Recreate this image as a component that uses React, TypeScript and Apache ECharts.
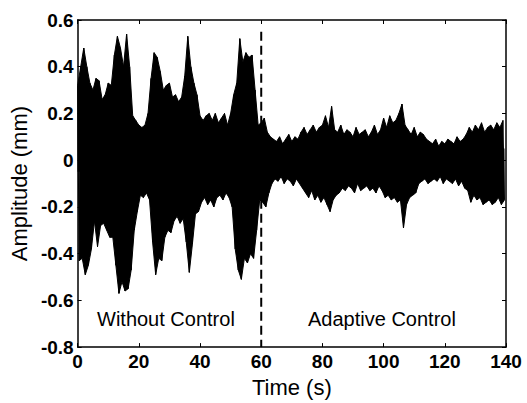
import React, { useEffect, useRef } from "react";
import * as echarts from "echarts";

// Envelope of the measured displacement, read per second (t = 0..139 s)
const upperPeaks: number[] = [
  0.32, 0.40, 0.48, 0.40, 0.33, 0.30, 0.35, 0.34, 0.26, 0.28,
  0.33, 0.32, 0.45, 0.53, 0.48, 0.40, 0.54, 0.40, 0.19, 0.17,
  0.15, 0.14, 0.15, 0.20, 0.35, 0.46, 0.44, 0.38, 0.30, 0.32,
  0.33, 0.27, 0.28, 0.25, 0.27, 0.36, 0.53, 0.40, 0.33, 0.28,
  0.19, 0.17, 0.19, 0.20, 0.17, 0.20, 0.16, 0.18, 0.20, 0.15,
  0.20, 0.28, 0.33, 0.52, 0.42, 0.46, 0.44, 0.45, 0.30, 0.15,
  0.16, 0.18, 0.12, 0.10, 0.09, 0.08, 0.10, 0.07, 0.09, 0.11,
  0.08, 0.10, 0.09, 0.12, 0.14, 0.11, 0.13, 0.15, 0.12, 0.14,
  0.15, 0.19, 0.14, 0.23, 0.13, 0.12, 0.15, 0.11, 0.13, 0.12,
  0.10, 0.14, 0.11, 0.12, 0.13, 0.10, 0.12, 0.15, 0.11, 0.13,
  0.18, 0.14, 0.19, 0.16, 0.17, 0.20, 0.24, 0.15, 0.13, 0.11,
  0.14, 0.10, 0.12, 0.11, 0.09, 0.08, 0.07, 0.09, 0.06, 0.08,
  0.07, 0.09, 0.08, 0.07, 0.10, 0.08, 0.09, 0.11, 0.14, 0.12,
  0.15, 0.13, 0.16, 0.12, 0.14, 0.15, 0.13, 0.16, 0.14, 0.17,
];

const lowerPeaks: number[] = [
  -0.43, -0.42, -0.49, -0.45, -0.38, -0.26, -0.37, -0.28, -0.27, -0.30,
  -0.33, -0.33, -0.45, -0.57, -0.52, -0.56, -0.55, -0.47, -0.30, -0.22,
  -0.15, -0.16, -0.14, -0.17, -0.35, -0.49, -0.42, -0.43, -0.33, -0.30,
  -0.31, -0.26, -0.24, -0.27, -0.25, -0.35, -0.48, -0.36, -0.23, -0.22,
  -0.18, -0.16, -0.19, -0.17, -0.20, -0.16, -0.15, -0.17, -0.14, -0.16,
  -0.20, -0.38, -0.47, -0.51, -0.42, -0.44, -0.40, -0.42, -0.30, -0.17,
  -0.18, -0.20, -0.14, -0.10, -0.08, -0.09, -0.07, -0.10, -0.08, -0.09,
  -0.11, -0.08, -0.10, -0.12, -0.14, -0.16, -0.13, -0.17, -0.15, -0.18,
  -0.16, -0.19, -0.22, -0.17, -0.15, -0.14, -0.12, -0.13, -0.11, -0.12,
  -0.14, -0.10, -0.13, -0.12, -0.11, -0.13, -0.12, -0.14, -0.11, -0.13,
  -0.16, -0.15, -0.17, -0.16, -0.18, -0.17, -0.29, -0.19, -0.16, -0.15,
  -0.14, -0.10, -0.09, -0.08, -0.10, -0.09, -0.08, -0.09, -0.07, -0.10,
  -0.08, -0.09, -0.10, -0.08, -0.11, -0.09, -0.12, -0.13, -0.18, -0.15,
  -0.17, -0.16, -0.19, -0.18, -0.17, -0.19, -0.18, -0.16, -0.19, -0.17,
];

const switchTime = 60;
const dividerRange: number[] = [0.55, -0.8];
const regionLabels: string[] = ["Without Control", "Adaptive Control"];
const xTicks = { min: 0, max: 140, interval: 20 };
const yTicks = { min: -0.8, max: 0.6, interval: 0.2 };

const FONT = "'Liberation Sans', Arial, sans-serif";

export default function App() {
  const ref = useRef<HTMLDivElement>(null);

  useEffect(() => {
    if (!ref.current) return;
    const chart = echarts.init(ref.current, null, { renderer: "svg" });

    const upperData = upperPeaks.map((v, i) => [i, v]);
    const lowerData = lowerPeaks.map((v, i) => [i + 0.5, v]);
    const signal: [number, number][] = [];
    for (let i = 0; i < upperPeaks.length; i++) {
      signal.push([i, upperPeaks[i]]);
      signal.push([i + 0.5, lowerPeaks[i]]);
    }
    const divider = dividerRange.map((v) => [switchTime, v]);

    const tickLabel = { color: "#000", fontSize: 19, fontFamily: FONT, fontWeight: "bold" as const };
    const frameLine = { show: true, onZero: false, lineStyle: { color: "#000", width: 1.5 } };
    const innerTick = { show: true, inside: true, length: 4, lineStyle: { color: "#000" } };
    const envelope = {
      type: "line",
      showSymbol: false,
      symbol: "none",
      lineStyle: { color: "#000", width: 1 },
      silent: true,
    };

    chart.setOption({
      animation: false,
      backgroundColor: "#fff",
      grid: { left: 77, top: 20, width: 429, height: 335, show: false },
      xAxis: [
        {
          type: "value",
          min: xTicks.min,
          max: xTicks.max,
          interval: xTicks.interval,
          name: "Time (s)",
          nameLocation: "middle",
          nameGap: 27,
          nameTextStyle: { color: "#000", fontSize: 22, fontFamily: FONT },
          axisLine: frameLine,
          axisTick: innerTick,
          axisLabel: { ...tickLabel, margin: 5 },
          splitLine: { show: false },
        },
        {
          type: "value",
          position: "top",
          min: xTicks.min,
          max: xTicks.max,
          interval: xTicks.interval,
          axisLine: frameLine,
          axisTick: innerTick,
          axisLabel: { show: false },
          splitLine: { show: false },
        },
      ],
      yAxis: [
        {
          type: "value",
          min: yTicks.min,
          max: yTicks.max,
          interval: yTicks.interval,
          name: "Amplitude (mm)",
          nameLocation: "middle",
          nameGap: 40,
          nameRotate: 90,
          nameTextStyle: { color: "#000", fontSize: 22, fontFamily: FONT },
          axisLine: frameLine,
          axisTick: innerTick,
          axisLabel: {
            ...tickLabel,
            margin: 4,
            formatter: (v: number) => (Math.abs(v) < 1e-9 ? "0" : v.toFixed(1)),
          },
          splitLine: { show: false },
        },
        {
          type: "value",
          position: "right",
          min: yTicks.min,
          max: yTicks.max,
          interval: yTicks.interval,
          axisLine: frameLine,
          axisTick: innerTick,
          axisLabel: { show: false },
          splitLine: { show: false },
        },
      ],
      series: [
        {
          ...envelope,
          name: "Upper",
          data: upperData,
          areaStyle: { color: "#000", opacity: 1, origin: -0.05 },
        },
        {
          ...envelope,
          name: "Lower",
          data: lowerData,
          areaStyle: { color: "#000", opacity: 1, origin: 0.05 },
        },
        {
          name: "Amplitude",
          type: "line",
          data: signal,
          showSymbol: false,
          symbol: "none",
          lineStyle: { color: "#000", width: 1 },
          silent: true,
        },
        {
          name: "Switch",
          type: "line",
          data: divider,
          showSymbol: false,
          symbol: "none",
          lineStyle: { color: "#000", width: 2, type: [9, 5] },
          silent: true,
        },
      ],
      graphic: [
        {
          type: "text",
          left: 97,
          top: 309,
          style: { text: regionLabels[0], fill: "#000", fontSize: 20, fontFamily: FONT },
        },
        {
          type: "text",
          left: 308,
          top: 309,
          style: { text: regionLabels[1], fill: "#000", fontSize: 20, fontFamily: FONT },
        },
      ],
    });

    return () => chart.dispose();
  }, []);

  return (
    <div
      ref={ref}
      style={{ position: "fixed", left: 0, top: 0, width: 527, height: 403, background: "#fff" }}
    />
  );
}
